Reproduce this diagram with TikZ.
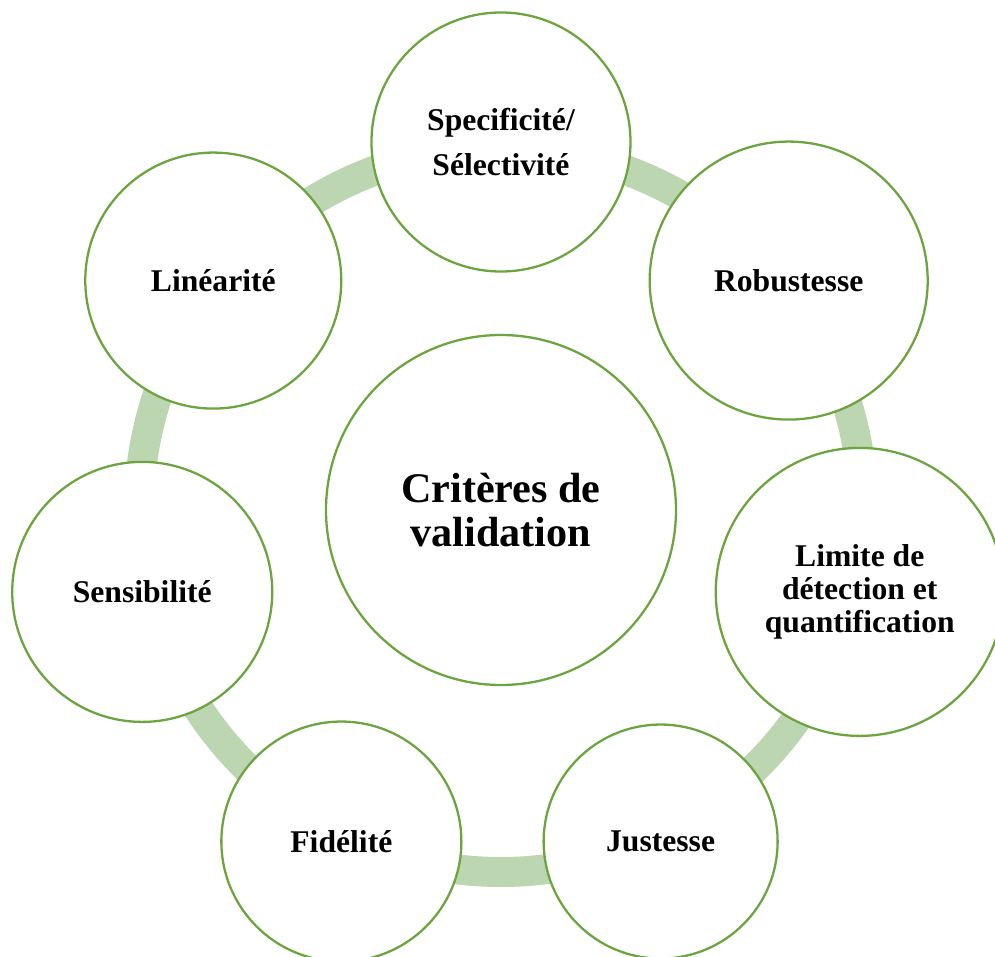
\documentclass[tikz,border=0pt]{standalone}
\usepackage{fontspec}
\setmainfont{Liberation Serif}
\usepackage{xcolor}
\usepackage{tikz}

\definecolor{vert}{HTML}{6CA540}
\definecolor{anneau}{HTML}{BCD6B1}

\begin{document}
\begin{tikzpicture}[x=0.2mm, y=0.2mm,
    critere/.style={circle, draw=vert, line width=1.3pt, fill=white,
      inner sep=0pt, align=center,
      font=\fontsize{18pt}{18.7pt}\selectfont\bfseries}]
            \clip (-501,-446) rectangle (494,510);

            % the ring behind the circles
            \draw[anneau, line width=6mm] (0,0) circle [radius=362];

            % the centre circle
            \node[critere, minimum size=70mm,
              font=\fontsize{24pt}{25pt}\selectfont\bfseries] (centre) at (0,0)
              {Critères de\\validation};

            % the seven criteria round it
            \node[critere, minimum size=51.8mm] (specif) at (90:368)
              {Specificité/\\[7.3pt]Sélectivité};
            \node[critere, minimum size=55.6mm] (robust) at (38.57:368) {Robustesse};
            \node[critere, minimum size=57.6mm] (limite) at (-12.86:368)
              {Limite de\\détection et\\quantification};
            \node[critere, minimum size=46.8mm] (justesse) at (-64.29:368) {Justesse};
            \node[critere, minimum size=48mm] (fidelite) at (-115.71:368) {Fidélité};
            \node[critere, minimum size=52mm] (sensib) at (-167.14:368) {Sensibilité};
            \node[critere, minimum size=51.2mm] (linear) at (141.43:368) {Linéarité};
        \end{tikzpicture}
\end{document}
